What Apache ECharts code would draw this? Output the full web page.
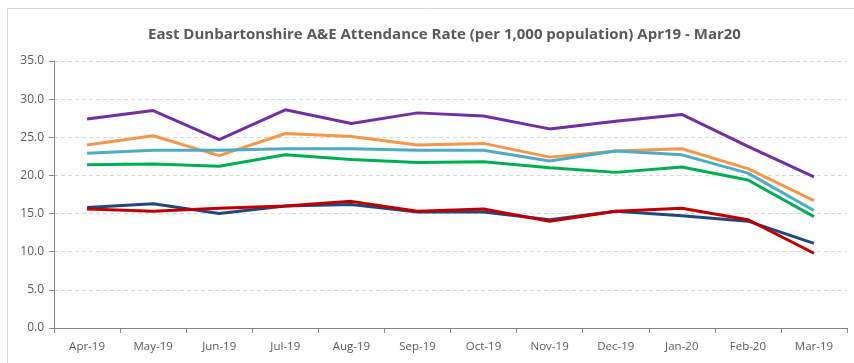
<!DOCTYPE html>
<html>
<head>
<meta charset="utf-8">
<script src="https://cdn.jsdelivr.net/npm/echarts@6/dist/echarts.min.js"></script>
<style>
  html, body { margin: 0; padding: 0; background: #fff; }
  #chart { width: 854px; height: 363px; }
</style>
</head>
<body>
<div id="chart"></div>
<script>
// Monthly A&E attendance rate per 1,000 population
const months = ['Apr-19', 'May-19', 'Jun-19', 'Jul-19', 'Aug-19', 'Sep-19', 'Oct-19', 'Nov-19', 'Dec-19', 'Jan-20', 'Feb-20', 'Mar-19'];

const purpleSeries = [27.4, 28.5, 24.7, 28.6, 26.8, 28.2, 27.8, 26.1, 27.1, 28.0, 23.8, 19.8];
const orangeSeries = [24.0, 25.2, 22.6, 25.5, 25.1, 24.0, 24.2, 22.4, 23.2, 23.5, 20.9, 16.7];
const lightBlueSeries = [22.9, 23.3, 23.3, 23.5, 23.5, 23.3, 23.3, 21.9, 23.2, 22.7, 20.3, 15.4];
const greenSeries = [21.4, 21.5, 21.2, 22.7, 22.1, 21.7, 21.8, 21.0, 20.4, 21.1, 19.4, 14.6];
const darkBlueSeries = [15.8, 16.3, 15.0, 16.0, 16.2, 15.2, 15.2, 14.2, 15.3, 14.7, 14.0, 11.1];
const redSeries = [15.6, 15.3, 15.7, 16.0, 16.6, 15.3, 15.6, 14.0, 15.3, 15.7, 14.2, 9.8];

const yTicks = { min: 0, max: 35, interval: 5 };

const chart = echarts.init(document.getElementById('chart'), null, { renderer: 'canvas' });

function line(data, color) {
  return {
    type: 'line',
    data: data,
    symbol: 'none',
    smooth: false,
    lineStyle: { color: color, width: 3 },
    itemStyle: { color: color }
  };
}

const labelFont = '"Open Sans", "Liberation Sans", sans-serif';

chart.setOption({
  animation: false,
  backgroundColor: '#ffffff',
  graphic: [{
    type: 'rect',
    shape: { x: 7.5, y: 8.5, width: 860, height: 370 },
    style: { fill: 'none', stroke: '#D9D9D9', lineWidth: 1 },
    silent: true
  }],
  title: {
    text: 'East Dunbartonshire A&E Attendance Rate (per 1,000 population) Apr19 - Mar20',
    left: 143,
    top: 22,
    textStyle: {
      fontFamily: labelFont,
      fontSize: 15,
      fontWeight: 'bold',
      color: '#595959'
    }
  },
  grid: { left: 54, right: 7, top: 61, bottom: 35, containLabel: false },
  xAxis: {
    type: 'category',
    data: months,
    boundaryGap: true,
    axisLine: { lineStyle: { color: '#868686', width: 1 } },
    axisTick: { show: true, alignWithLabel: false, length: 5, lineStyle: { color: '#868686' } },
    axisLabel: {
      color: '#595959',
      fontSize: 11.5,
      margin: 13,
      fontFamily: labelFont
    }
  },
  yAxis: {
    type: 'value',
    min: yTicks.min,
    max: yTicks.max,
    interval: yTicks.interval,
    axisLine: { show: true, lineStyle: { color: '#868686', width: 1 } },
    axisTick: { show: true, length: 5, lineStyle: { color: '#868686' } },
    axisLabel: {
      color: '#595959',
      fontSize: 12,
      margin: 10,
      fontFamily: labelFont,
      formatter: v => v.toFixed(1)
    },
    splitLine: { show: true, lineStyle: { color: '#D9D9D9', type: [4, 3], width: 1 } }
  },
  series: [
    line(purpleSeries, '#7030A0'),
    line(orangeSeries, '#F79646'),
    line(lightBlueSeries, '#4BACC6'),
    line(greenSeries, '#00B050'),
    line(darkBlueSeries, '#1F497D'),
    line(redSeries, '#C00000')
  ]
});
</script>
</body>
</html>
